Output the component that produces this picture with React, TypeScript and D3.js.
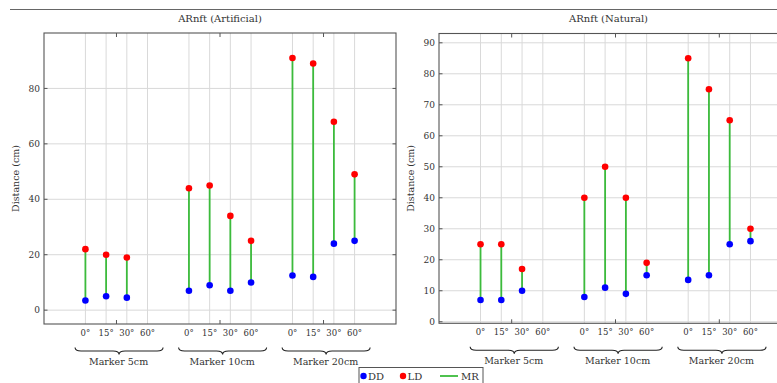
import React from 'react'
import * as d3 from 'd3'

// slot index of each bar along the x axis (gap between marker groups)
const slots = [0, 1, 2, 3, 5, 6, 7, 8, 10, 11, 12, 13]
const angleLabels = ['0°', '15°', '30°', '60°', '0°', '15°', '30°', '60°', '0°', '15°', '30°', '60°']
const markerLabels = ['Marker 5cm', 'Marker 10cm', 'Marker 20cm']
const markerStarts = [0, 5, 10]
const minorTicks = [1.5, 6.5, 11.5]

const artificialDD = [3.5, 5, 4.5, null, 7, 9, 7, 10, 12.5, 12, 24, 25]
const artificialLD = [22, 20, 19, null, 44, 45, 34, 25, 91, 89, 68, 49]
const naturalDD = [7, 7, 10, null, 8, 11, 9, 15, 13.5, 15, 25, 26]
const naturalLD = [25, 25, 17, null, 40, 50, 40, 19, 85, 75, 65, 30]

const artificialTicks = [0, 20, 40, 60, 80]
const naturalTicks = [0, 10, 20, 30, 40, 50, 60, 70, 80, 90]

const FONT = 'DejaVu Serif, serif'
const GRID = '#d9d9d9'
const AXIS = '#555'
const TEXT = '#333'

interface PanelProps {
  title: string
  left: number
  right: number
  top: number
  bottom: number
  yDomain: [number, number]
  yTicks: number[]
  dd: (number | null)[]
  ld: (number | null)[]
}

function bracePath(x1: number, x2: number, y0: number, h: number) {
  const mid = (x1 + x2) / 2
  const q = 6
  const ym = y0 + h / 2
  return `M${x1},${y0} Q${x1},${ym} ${x1 + q},${ym} L${mid - q},${ym} Q${mid},${ym} ${mid},${y0 + h} Q${mid},${ym} ${mid + q},${ym} L${x2 - q},${ym} Q${x2},${ym} ${x2},${y0}`
}

const Panel: React.FC<PanelProps> = ({ title, left, right, top, bottom, yDomain, yTicks, dd, ld }) => {
  const x = d3.scaleLinear().domain([-2, 15]).range([left, right])
  const y = d3.scaleLinear().domain(yDomain).range([bottom, top])
  const clipId = `clip-${left}`

  return (
    <g>
      <defs>
        <clipPath id={clipId}>
          <rect x={left} y={top} width={right - left} height={bottom - top} />
        </clipPath>
      </defs>
      <text x={(left + right) / 2 - (right > 777 ? 7 : 0)} y={21.5} textAnchor="middle" fontSize={10} fill={TEXT}>
        {title}
      </text>

      {/* grid */}
      {yTicks.map(t => (
        <line key={`gy${t}`} x1={left} x2={right} y1={y(t)} y2={y(t)} stroke={GRID} strokeWidth={1} />
      ))}
      {slots.map(s => (
        <line key={`gx${s}`} x1={x(s)} x2={x(s)} y1={top} y2={bottom} stroke={GRID} strokeWidth={1} />
      ))}

      {/* MR range lines */}
      <g clipPath={`url(#${clipId})`}>
        {slots.map((s, i) =>
          dd[i] == null || ld[i] == null ? null : (
            <line key={`mr${i}`} x1={x(s)} x2={x(s)} y1={y(dd[i] as number)} y2={y(ld[i] as number)} stroke="#3cbb3c" strokeWidth={1.8} />
          )
        )}
        {slots.map((s, i) =>
          ld[i] == null ? null : <circle key={`ld${i}`} cx={x(s)} cy={y(ld[i] as number)} r={3.3} fill="#ff0000" />
        )}
        {slots.map((s, i) =>
          dd[i] == null ? null : <circle key={`dd${i}`} cx={x(s)} cy={y(dd[i] as number)} r={3.3} fill="#0000ff" />
        )}
      </g>

      {/* axis frame */}
      <rect x={left} y={top} width={right - left} height={bottom - top} fill="none" stroke={AXIS} strokeWidth={1.1} />
      {yTicks.map(t => (
        <g key={`ty${t}`}>
          <line x1={left} x2={left + 3.5} y1={y(t)} y2={y(t)} stroke={AXIS} />
          <line x1={right - 3.5} x2={right} y1={y(t)} y2={y(t)} stroke={AXIS} />
          <text x={left - 4} y={y(t) + 3.2} textAnchor="end" fontSize={9} fill={TEXT}>
            {t}
          </text>
        </g>
      ))}
      {minorTicks.map(m => (
        <g key={`mt${m}`}>
          <line x1={x(m)} x2={x(m)} y1={top} y2={top + 4} stroke={AXIS} />
          <line x1={x(m)} x2={x(m)} y1={bottom - 4} y2={bottom} stroke={AXIS} />
        </g>
      ))}
      {slots.map((s, i) => (
        <text key={`lx${i}`} x={x(s)} y={bottom + 12} textAnchor="middle" fontSize={8.5} fill={TEXT}>
          {angleLabels[i]}
        </text>
      ))}

      {/* group braces */}
      {markerStarts.map((st, i) => (
        <g key={`br${i}`}>
          <path d={bracePath(x(st - 0.5), x(st + 3.75), bottom + 23.5, 7)} fill="none" stroke="#222" strokeWidth={1.1} />
          <text x={x(st + 1.6)} y={bottom + 41} textAnchor="middle" fontSize={9.5} fill={TEXT}>
            {markerLabels[i]}
          </text>
        </g>
      ))}

      <text
        transform={`translate(${left - 25},${(top + bottom) / 2}) rotate(-90)`}
        textAnchor="middle"
        fontSize={9.5}
        fill={TEXT}
      >
        Distance (cm)
      </text>
    </g>
  )
}

export default function App() {
  return (
    <svg
      width={777}
      height={383}
      fontFamily={FONT}
      style={{ position: 'absolute', left: 0, top: 0, display: 'block', background: '#fff' }}
    >
      <line x1={10} x2={777} y1={9.5} y2={9.5} stroke="#666" strokeWidth={1.2} />
      <Panel
        title="ARnft (Artificial)"
        left={44}
        right={396}
        top={33}
        bottom={324}
        yDomain={[-5, 100]}
        yTicks={artificialTicks}
        dd={artificialDD}
        ld={artificialLD}
      />
      <Panel
        title="ARnft (Natural)"
        left={439}
        right={792}
        top={33.5}
        bottom={323.3}
        yDomain={[-0.5, 93]}
        yTicks={naturalTicks}
        dd={naturalDD}
        ld={naturalLD}
      />

      {/* legend */}
      <g>
        <rect x={359} y={367.5} width={124} height={20} fill="#fff" stroke={AXIS} strokeWidth={1} />
        <circle cx={363.5} cy={376} r={3.2} fill="#0000ff" />
        <text x={368} y={379.5} fontSize={10} fill={TEXT}>DD</text>
        <circle cx={403} cy={376} r={3.2} fill="#ff0000" />
        <text x={407.5} y={379.5} fontSize={10} fill={TEXT}>LD</text>
        <line x1={440} x2={458} y1={376} y2={376} stroke="#3cbb3c" strokeWidth={1.8} />
        <text x={461} y={379.5} fontSize={10} fill={TEXT}>MR</text>
      </g>
    </svg>
  )
}
